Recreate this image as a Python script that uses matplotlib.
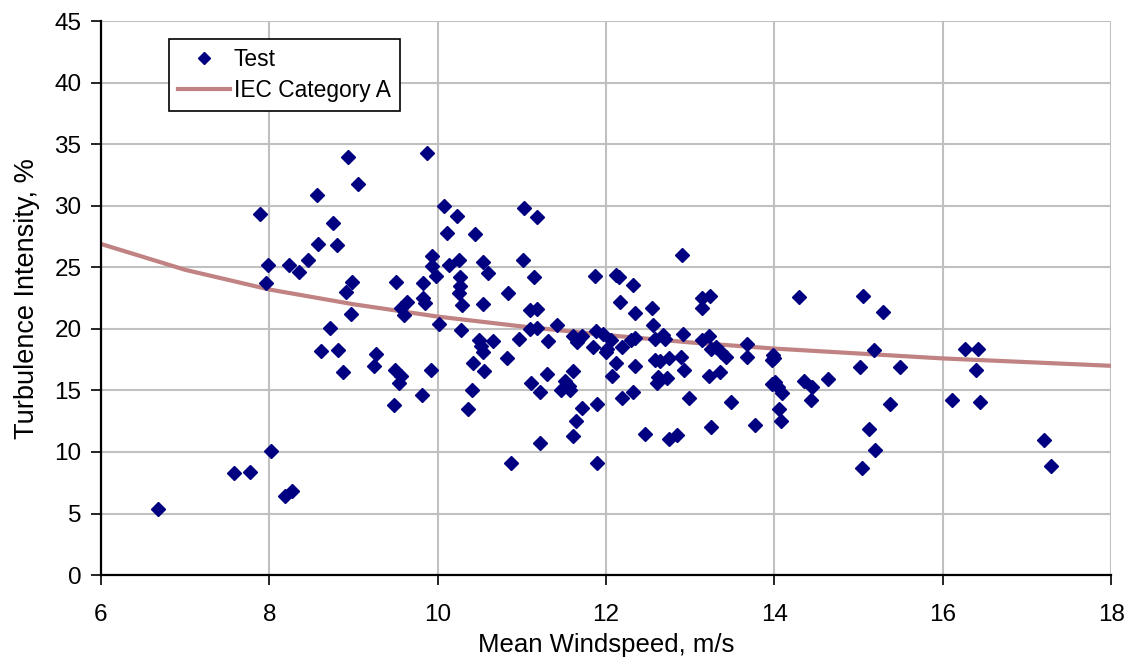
"""
Turbulence intensity vs mean windspeed: test data against IEC Category A.
"""

import matplotlib
matplotlib.use("Agg")
import matplotlib.pyplot as plt

# measured points (mean windspeed m/s, turbulence intensity %)
test_ws = [
    6.68, 7.58, 7.77, 8.02, 8.19, 8.27,
    7.89, 7.98, 7.96, 8.23, 8.35, 8.46, 8.57, 8.58, 8.76, 8.80, 8.94, 9.05,
    8.98, 8.91, 8.97, 8.72, 8.61, 8.82, 8.88,
    9.87, 9.27, 9.24, 9.50, 9.64, 9.57, 9.60, 9.83, 9.82, 9.85, 9.93, 9.93,
    9.98, 10.01, 10.07, 10.23, 10.11, 10.13, 10.25, 10.44, 10.27, 10.27,
    10.25, 10.29, 10.28, 10.54, 10.60, 10.54, 10.49, 10.52, 10.54, 10.66,
    10.42, 10.55, 10.41, 10.36, 9.92, 9.49, 9.57, 9.54, 9.81, 9.48,
    10.84, 10.82, 10.97, 10.87, 11.01, 11.02, 11.18, 11.14, 11.10, 11.18,
    11.10, 11.18, 11.31, 11.42, 11.11, 11.21, 11.30, 11.22, 11.47, 11.51,
    11.56, 11.57, 11.61, 11.72, 11.64, 11.61, 11.89, 11.89, 11.61, 11.67,
    11.71, 11.65, 11.85, 11.87, 11.88, 11.96, 12.01, 12.00, 12.06, 12.12,
    12.07, 12.19, 12.19, 12.12, 12.15, 12.17, 12.32, 12.34, 12.55, 12.56,
    12.58, 12.30, 12.35, 12.58, 12.35, 12.32, 12.46,
    12.90, 13.14, 13.24, 13.14, 12.68, 12.70, 12.91, 13.14, 13.22, 13.25,
    13.31, 13.37, 13.43, 13.67, 13.67, 12.64, 12.75, 12.89, 12.93, 12.62,
    12.72, 12.60, 13.22, 13.35, 12.98, 13.49, 12.75, 12.84, 13.25, 13.77,
    13.98, 13.99, 13.97, 14.01, 13.97, 14.04, 14.09, 14.05, 14.08, 14.29,
    14.35, 14.45, 14.44, 14.64, 15.05, 15.29, 15.18, 15.02, 15.49, 15.37,
    15.12, 15.19, 15.04,
    16.27, 16.42, 16.40, 16.11, 16.44, 17.20, 17.29,
]
test_ti = [
    5.4, 8.3, 8.4, 10.1, 6.45, 6.8,
    29.3, 25.2, 23.75, 25.15, 24.6, 25.6, 30.9, 26.9, 28.6, 26.8, 34.0, 31.8,
    23.8, 23.0, 21.2, 20.1, 18.2, 18.3, 16.5,
    34.3, 18.0, 17.0, 23.8, 22.2, 21.7, 21.1, 23.7, 22.5, 22.1, 25.9, 25.1,
    24.3, 20.4, 30.0, 29.2, 27.8, 25.2, 25.6, 27.7, 24.2, 23.5,
    22.9, 21.9, 19.9, 25.4, 24.5, 22.0, 19.1, 18.6, 18.1, 19.0,
    17.2, 16.6, 15.0, 13.5, 16.7, 16.7, 16.2, 15.6, 14.6, 13.8,
    22.9, 17.6, 19.2, 9.1, 25.6, 29.8, 29.1, 24.2, 21.5, 21.6,
    20.0, 20.1, 19.0, 20.3, 15.6, 14.9, 16.3, 10.7, 15.0, 15.8,
    15.4, 15.0, 16.6, 13.6, 12.5, 11.3, 9.1, 13.9, 19.4, 19.1,
    19.4, 18.9, 18.5, 24.3, 19.8, 19.6, 18.4, 18.1, 19.1, 17.2,
    16.2, 18.5, 14.4, 24.4, 24.2, 22.2, 23.6, 21.3, 21.7, 20.3,
    19.2, 19.1, 19.3, 17.5, 17.0, 14.9, 11.5,
    26.0, 22.5, 22.7, 21.7, 19.5, 19.2, 19.6, 19.1, 19.4, 18.4,
    18.5, 18.1, 17.7, 18.8, 17.7, 17.4, 17.6, 17.7, 16.7, 16.1,
    16.0, 15.6, 16.2, 16.5, 14.4, 14.1, 11.05, 11.4, 12.0, 12.2,
    17.9, 17.6, 17.5, 15.7, 15.5, 15.3, 14.8, 13.5, 12.5, 22.6,
    15.8, 15.3, 14.2, 15.9, 22.7, 21.4, 18.3, 16.9, 16.9, 13.9,
    11.9, 10.2, 8.7,
    18.4, 18.4, 16.7, 14.2, 14.1, 11.0, 8.85,
]

# IEC category A reference curve, read at whole windspeeds
iec_ws = [6, 7, 8, 9, 10, 11, 12, 13, 14, 15, 16, 17, 18]
iec_ti = [26.9, 24.8, 23.2, 22.0, 21.0, 20.2, 19.5, 18.9, 18.4, 18.0, 17.6, 17.3, 17.0]

plt.rcParams["font.family"] = ["Liberation Sans", "DejaVu Sans"]

fig = plt.figure(figsize=(11.28, 6.61), dpi=100)
ax = fig.add_axes([0.0895, 0.130, 0.8955, 0.838])

ax.plot(test_ws, test_ti, linestyle="none", marker="D", markersize=7,
        color="#000080", label="Test", zorder=3)
ax.plot(iec_ws, iec_ti, color="#C08282", linewidth=3, label="IEC Category A",
        zorder=2)

ax.set_xlim(6, 18)
ax.set_ylim(0, 45)
ax.set_xticks(range(6, 19, 2))
ax.set_yticks(range(0, 46, 5))
ax.grid(True, color="#C0C0C0", linewidth=1.5)
ax.set_axisbelow(True)

for side in ("top", "right"):
    ax.spines[side].set_visible(False)
for side in ("left", "bottom"):
    ax.spines[side].set_linewidth(1.6)
    ax.spines[side].set_color("black")

ax.tick_params(direction="out", length=7, width=1.2, labelsize=17.5)
ax.tick_params(axis="x", pad=14)
ax.tick_params(axis="y", pad=7)

ax.set_xlabel("Mean Windspeed, m/s", fontsize=18.5, labelpad=5)
ax.set_ylabel("Turbulence Intensity, %", fontsize=19.5, labelpad=10)

leg = ax.legend(loc="upper left", bbox_to_anchor=(0.067, 0.968), fontsize=16.4,
                fancybox=False, framealpha=1, edgecolor="black",
                handlelength=2.3, handletextpad=0.15, borderpad=0.4,
                labelspacing=0.35, markerscale=0.85, borderaxespad=0)
leg.get_frame().set_linewidth(1.2)

fig.savefig("out.png", dpi=100)
plt.close(fig)
